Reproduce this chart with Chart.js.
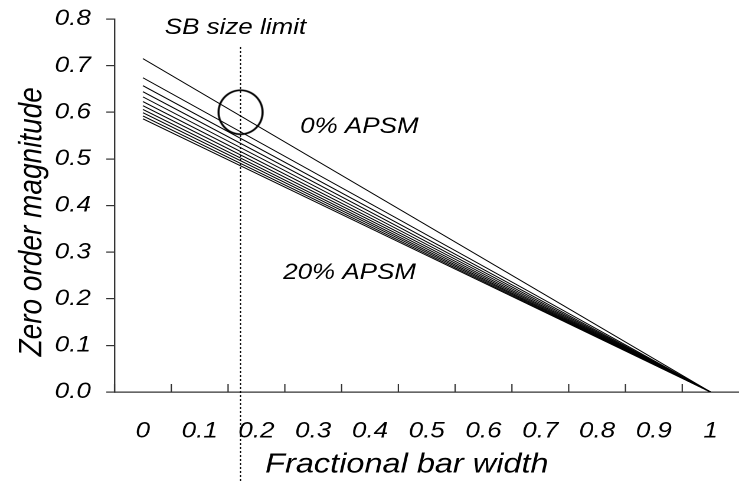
<!DOCTYPE html>
<html>
<head>
<meta charset="utf-8">
<script src="https://cdn.jsdelivr.net/npm/chart.js@4/dist/chart.umd.min.js"></script>
<style>
  html, body { margin: 0; padding: 0; background: #fff; overflow: hidden; }
  /* the chart is laid out narrower and widened to the page, giving the wide lettering */
  #wrap { width: 626px; height: 486px; position: relative; transform: scaleX(1.1805); transform-origin: 0 0; }
</style>
</head>
<body>
<div id="wrap"><canvas id="chart" width="626" height="486"></canvas></div>
<script>
// Fractional bar width positions and their labels
const barWidthTicks = [0, 0.1, 0.2, 0.3, 0.4, 0.5, 0.6, 0.7, 0.8, 0.9, 1];
const barWidthLabels = ['0', '0.1', '0.2', '0.3', '0.4', '0.5', '0.6', '0.7', '0.8', '0.9', '1'];

// One line per APSM level: zero order magnitude at bar width 0 and at bar width 1
const apsmLevels = ['0%', '2%', '4%', '6%', '8%', '10%', '12%', '14%', '16%', '18%', '20%'];
const magnitudeAtZero = [0.715, 0.674, 0.657, 0.644, 0.633, 0.623, 0.614, 0.606, 0.599, 0.592, 0.586];
const magnitudeAtOne = [0, 0, 0, 0, 0, 0, 0, 0, 0, 0, 0];

// Magnitude axis ticks
const magnitudeTicks = [0, 0.1, 0.2, 0.3, 0.4, 0.5, 0.6, 0.7, 0.8];

// SB size limit marker and highlighted crossing
const sbLimit = 0.172;
const sbLineSpan = [0.74, -0.195];
const crossing = { x: 0.172, y: 0.6 };

// Text notes placed in data units
const notes = [
  { text: 'SB size limit', x: 0.163, y: 0.781, align: 'center' },
  { text: '0% APSM', x: 0.277, y: 0.569, align: 'left' },
  { text: '20% APSM', x: 0.247, y: 0.255, align: 'left' }
];

// Axis titles
const xTitle = 'Fractional bar width';
const yTitle = 'Zero order magnitude';

const STRETCH = 1.1805;
const FONT = '"Liberation Sans", Arial, sans-serif';

// Ring marker, narrowed so it stays round once the page widens it
function ringMarker(r, lw) {
  const s = 4;
  const rx = r / STRETCH, ry = r;
  const w = Math.ceil(2 * rx + 2 * lw), h = Math.ceil(2 * ry + 2 * lw);
  const c = document.createElement('canvas');
  c.width = w * s; c.height = h * s;
  const g = c.getContext('2d');
  g.scale(s, s);
  g.lineWidth = lw;
  g.strokeStyle = '#000';
  g.beginPath();
  g.ellipse(w / 2, h / 2, rx, ry, 0, 0, Math.PI * 2);
  g.stroke();
  const img = new Image();
  img.width = w; img.height = h;
  img.src = c.toDataURL();
  return img;
}

// Inward tick marks on the bar-width axis, placed between the labels
const xTickMarks = {
  id: 'xTickMarks',
  afterDraw(chart) {
    const { ctx, scales: { x, y } } = chart;
    const base = y.getPixelForValue(0);
    ctx.save();
    ctx.strokeStyle = '#333';
    ctx.lineWidth = 1.1;
    for (let k = 0; k < barWidthTicks.length; k++) {
      const px = x.getPixelForValue(barWidthTicks[k] - 0.05);
      ctx.beginPath();
      ctx.moveTo(px, base);
      ctx.lineTo(px, base - 8);
      ctx.stroke();
    }
    ctx.restore();
  }
};

// Notes inside the plot and the two axis titles
const textNotes = {
  id: 'textNotes',
  afterDatasetsDraw(chart) {
    const { ctx, scales: { x, y } } = chart;
    ctx.save();
    ctx.fillStyle = '#000';
    ctx.textBaseline = 'middle';
    ctx.font = 'italic 22px ' + FONT;
    notes.forEach(n => {
      ctx.textAlign = n.align;
      ctx.fillText(n.text, x.getPixelForValue(n.x), y.getPixelForValue(n.y));
    });

    ctx.font = 'italic 27.5px ' + FONT;
    ctx.textAlign = 'center';
    ctx.fillText(xTitle, x.getPixelForValue(0.465), x.bottom - 21);

    ctx.translate(y.left + 27, y.getPixelForValue(0.365));
    ctx.rotate(-Math.PI / 2);
    ctx.font = 'italic 28px ' + FONT;
    ctx.fillText(yTitle, 0, 0);
    ctx.restore();
  }
};

function build(marker) {
  const datasets = apsmLevels.map((lvl, i) => ({
    label: lvl + ' APSM',
    data: [{ x: 0, y: magnitudeAtZero[i] }, { x: 1, y: magnitudeAtOne[i] }],
    borderColor: '#000',
    borderWidth: 1,
    pointRadius: 0,
    fill: false
  }));

  datasets.push({
    label: 'SB size limit',
    data: [{ x: sbLimit, y: sbLineSpan[0] }, { x: sbLimit, y: sbLineSpan[1] }],
    borderColor: '#000',
    borderWidth: 1,
    borderDash: [2, 2],
    pointRadius: 0,
    clip: false
  });

  datasets.push({
    label: 'crossing',
    data: [crossing],
    showLine: false,
    pointRadius: 22,
    pointStyle: marker,
    clip: false
  });

  new Chart(document.getElementById('chart'), {
    type: 'line',
    data: { datasets },
    options: {
      responsive: false,
      devicePixelRatio: 2,
      animation: false,
      layout: { autoPadding: false, padding: { top: 19, right: 0, bottom: 0, left: 0 } },
      plugins: { legend: { display: false }, tooltip: { enabled: false } },
      scales: {
        x: {
          type: 'linear',
          min: -0.05,
          max: 1.05,
          afterBuildTicks(scale) {
            scale.ticks = barWidthTicks.map(v => ({ value: v }));
          },
          afterFit(scale) {
            scale.height = 94;
            scale.paddingLeft = 0;
            scale.paddingRight = 0;
          },
          grid: { display: false, drawTicks: false },
          border: { display: true, color: '#333', width: 1.2 },
          ticks: {
            autoSkip: false,
            maxRotation: 0,
            padding: 26,
            color: '#000',
            font: { family: FONT, size: 22, style: 'italic' },
            callback: (v, i) => barWidthLabels[i]
          },
          title: { display: false }
        },
        y: {
          type: 'linear',
          min: 0,
          max: 0.8,
          afterBuildTicks(scale) {
            scale.ticks = magnitudeTicks.map(v => ({ value: v }));
          },
          afterFit(scale) {
            scale.width = 97;
            scale.paddingTop = 0;
            scale.paddingBottom = 0;
          },
          grid: { display: true, drawOnChartArea: false, drawTicks: true, tickLength: 7, color: '#333', lineWidth: 1.2 },
          border: { display: true, color: '#333', width: 1.2 },
          ticks: {
            padding: 13,
            color: '#000',
            font: { family: FONT, size: 22, style: 'italic' },
            callback: v => v.toFixed(1)
          },
          title: { display: false }
        }
      }
    },
    plugins: [xTickMarks, textNotes]
  });
}

const marker = ringMarker(22, 1.8);
if (marker.complete && marker.naturalWidth) build(marker);
else marker.onload = () => build(marker);
</script>
</body>
</html>
